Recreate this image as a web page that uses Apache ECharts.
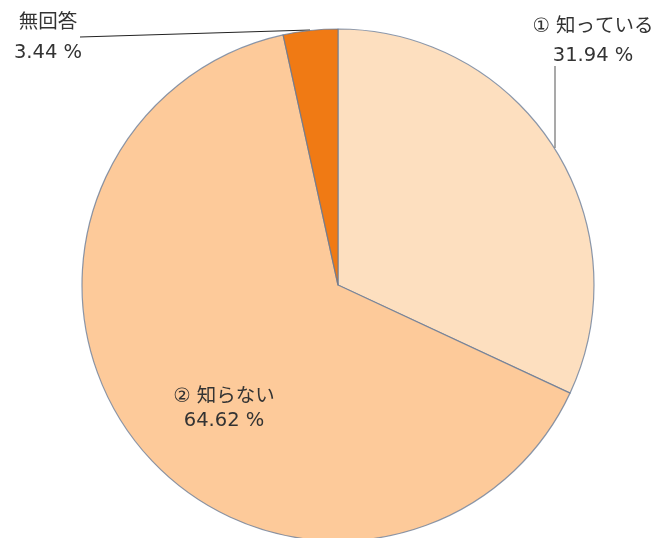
<!DOCTYPE html>
<html><head><meta charset="utf-8">
<script src="https://cdn.jsdelivr.net/npm/echarts@6/dist/echarts.min.js"></script>
<style>html,body{margin:0;padding:0;background:#fff}#c{width:658px;height:538px}</style>
</head><body><div id="c"></div>
<script>
const categories = ['① 知っている', '② 知らない', '無回答'];
const values = [31.94, 64.62, 3.44];
const colors = ['#FDDFBF', '#FDCA9A', '#F07A14'];

const labelPos = [
  {x: 593, y: 41, lh: 29, line: [[555, 148], [555, 66]], lineColor: '#8c8c8c', lineWidth: 1.5},
  {x: 224, y: 409, lh: 24, line: null},
  {x: 48, y: 38, lh: 30, line: [[310, 30], [80, 37]], lineColor: '#222', lineWidth: 1}
];

const chart = echarts.init(document.getElementById('c'));
chart.setOption({
  animation: false,
  series: [{
    type: 'pie',
    center: [338, 285],
    radius: 256,
    startAngle: 90,
    clockwise: true,
    avoidLabelOverlap: false,
    data: categories.map((n, i) => ({
      name: n, value: values[i],
      itemStyle: {color: colors[i]},
      label: {lineHeight: labelPos[i].lh},
      labelLine: labelPos[i].line ? {show: true, lineStyle: {color: labelPos[i].lineColor, width: labelPos[i].lineWidth}} : {show: false}
    })),
    itemStyle: {borderColor: 'rgba(100,120,150,0.75)', borderWidth: 1.2},
    label: {
      show: true,
      formatter: p => p.name + '\n' + p.value.toFixed(2) + ' %',
      fontFamily: '"DejaVu Sans", "Noto Sans CJK JP", sans-serif',
      fontSize: 19.5,
      color: '#333',
      align: 'center'
    },
    labelLine: {show: true, length: 10, length2: 10},
    labelLayout: function (params) {
      const lp = labelPos[params.dataIndex];
      const out = {x: lp.x, y: lp.y, align: 'center', verticalAlign: 'middle'};
      if (lp.line) out.labelLinePoints = lp.line;
      return out;
    },
    emphasis: {disabled: true}
  }]
});
</script></body></html>
